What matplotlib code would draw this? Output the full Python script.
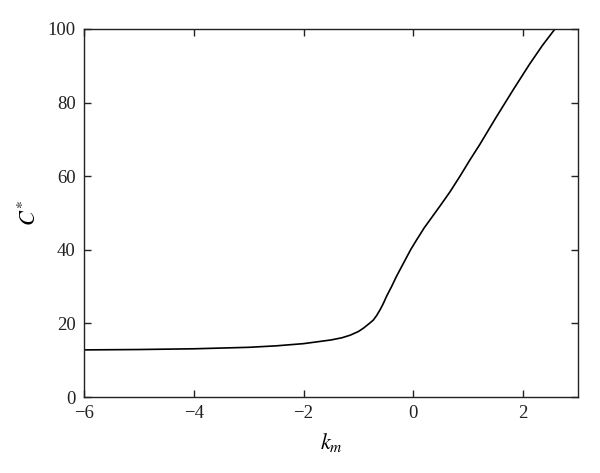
import matplotlib
matplotlib.use('Agg')
import matplotlib.pyplot as plt

# values
km = [-6.0, -5.0, -4.0, -3.0, -2.5, -2.0, -1.5, -1.3, -1.15, -1.0, -0.91,
      -0.8, -0.73, -0.67, -0.61, -0.55, -0.49, -0.4, -0.31, -0.15, -0.05,
      0.06, 0.2, 0.36, 0.5, 0.67, 0.85, 1.03, 1.21, 1.5, 1.82, 2.12, 2.35,
      2.6]
c_star = [12.8, 12.9, 13.1, 13.5, 13.9, 14.5, 15.5, 16.1, 16.8, 17.8, 18.7,
          20.0, 20.9, 22.1, 23.6, 25.3, 27.3, 29.9, 32.7, 37.2, 40.0,
          42.7, 46.0, 49.3, 52.2, 55.8, 60.0, 64.4, 68.6, 75.8, 83.5, 90.5,
          95.5, 100.4]

x_ticks = [-6, -4, -2, 0, 2]
y_ticks = [0, 20, 40, 60, 80, 100]

plt.rcParams['font.family'] = ['Liberation Serif', 'DejaVu Serif']
plt.rcParams['mathtext.fontset'] = 'stix'

fig = plt.figure(figsize=(6.0, 4.73), dpi=100)
ax = fig.add_axes([84 / 600, 1 - 397 / 473, 494 / 600, 368 / 473])

ax.plot(km, c_star, color='black', linewidth=1.2)

ax.set_xlim(-6, 3)
ax.set_ylim(0, 100)
ax.set_xticks(x_ticks)
ax.set_yticks(y_ticks)
ax.set_xticklabels(['\u22126', '\u22124', '\u22122', '0', '2'])
ax.tick_params(direction='in', length=5, width=1, top=True, right=True,
               labelsize=13.5, pad=6, colors='#222222')
for s in ax.spines.values():
    s.set_linewidth(1.0)
    s.set_color('#222222')

ax.set_xlabel('$k_m$', fontsize=16, labelpad=6)
ax.set_ylabel('$C^{*}$', fontsize=16, labelpad=5)

fig.savefig('out.png', dpi=100)
